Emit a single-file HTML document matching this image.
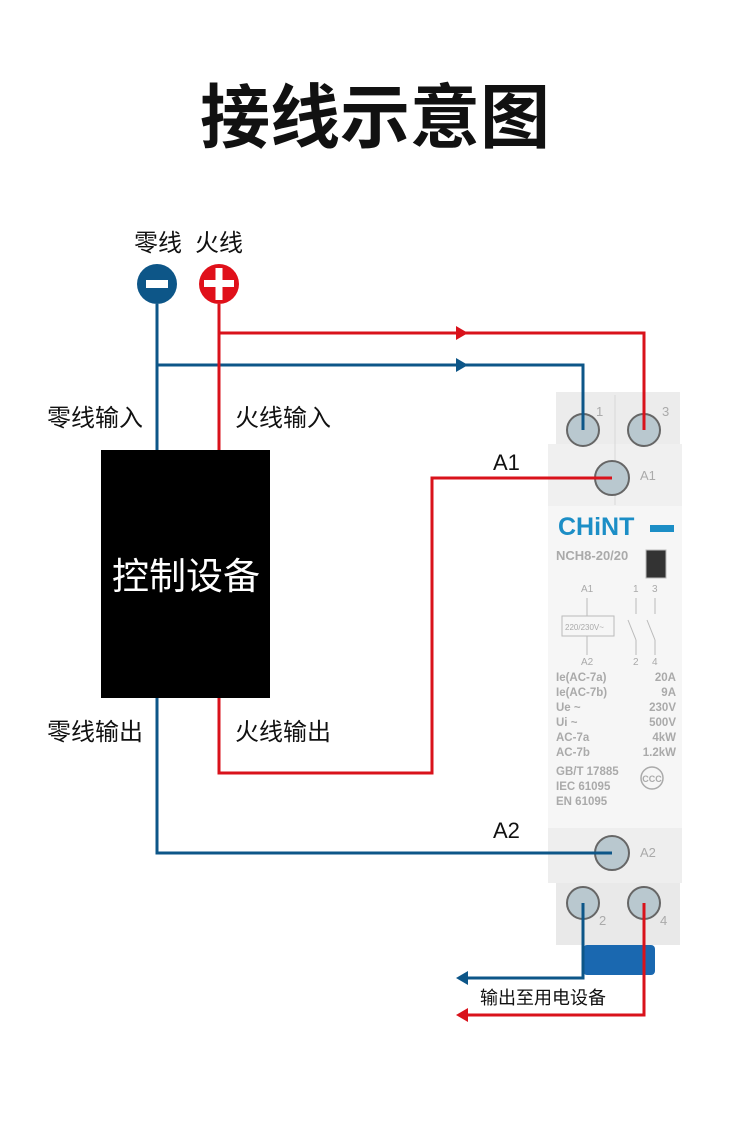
<!DOCTYPE html>
<html><head><meta charset="utf-8"><style>
body{margin:0;background:#fff}
svg{display:block}
text{font-family:"Liberation Sans","Noto Sans CJK SC",sans-serif}
</style></head><body>
<svg width="750" height="1148" viewBox="0 0 750 1148" xmlns="http://www.w3.org/2000/svg">
<text x="375" y="142" font-size="70" font-weight="bold" text-anchor="middle" fill="#111">接线示意图</text>
<text x="134" y="251" font-size="24" fill="#111">零线</text>
<text x="195" y="251" font-size="24" fill="#111">火线</text>
<g>
<rect x="556" y="392" width="124" height="52" fill="#ececec"/>
<rect x="548" y="444" width="134" height="62" fill="#f0f0f0"/>
<rect x="548" y="506" width="134" height="322" fill="#f6f6f6"/>
<rect x="548" y="828" width="134" height="55" fill="#eeeeee"/>
<rect x="556" y="883" width="124" height="62" fill="#e9e9e9"/>
<rect x="583" y="945" width="72" height="30" rx="4" fill="#1a68b0"/>
<line x1="615" y1="395" x2="615" y2="505" stroke="#d8d8d8"/>
<text x="596" y="416" font-size="13" fill="#aaa">1</text>
<text x="662" y="416" font-size="13" fill="#aaa">3</text>
<text x="640" y="480" font-size="13" fill="#aaa">A1</text>
<text x="640" y="857" font-size="13" fill="#aaa">A2</text>
<text x="599" y="925" font-size="13" fill="#aaa">2</text>
<text x="660" y="925" font-size="13" fill="#aaa">4</text>
<text x="558" y="535" font-size="25" font-weight="bold" fill="#1c8ec6">CHiNT</text>
<rect x="650" y="525" width="24" height="7" fill="#1c8ec6"/>
<text x="556" y="560" font-size="13" font-weight="bold" fill="#aaa">NCH8-20/20</text>
<rect x="646" y="550" width="20" height="28" fill="#333" stroke="#bbb"/>
<g font-size="10" fill="#aaa">
<text x="581" y="592">A1</text><text x="633" y="592">1</text><text x="652" y="592">3</text>
<text x="581" y="665">A2</text><text x="633" y="665">2</text><text x="652" y="665">4</text>
</g>
<g stroke="#bbb" fill="none">
<line x1="587" y1="598" x2="587" y2="616"/><line x1="587" y1="636" x2="587" y2="655"/>
<rect x="562" y="616" width="52" height="20"/>
<line x1="636" y1="598" x2="636" y2="614"/><line x1="628" y1="620" x2="636" y2="640"/><line x1="636" y1="640" x2="636" y2="655"/>
<line x1="655" y1="598" x2="655" y2="614"/><line x1="647" y1="620" x2="655" y2="640"/><line x1="655" y1="640" x2="655" y2="655"/>
</g>
<text x="565" y="630" font-size="8" fill="#aaa">220/230V~</text>
<g font-size="11.5" font-weight="bold" fill="#aaa">
<text x="556" y="681">Ie(AC-7a)</text><text x="676" y="681" text-anchor="end">20A</text>
<text x="556" y="696">Ie(AC-7b)</text><text x="676" y="696" text-anchor="end">9A</text>
<text x="556" y="711">Ue ~</text><text x="676" y="711" text-anchor="end">230V</text>
<text x="556" y="726">Ui ~</text><text x="676" y="726" text-anchor="end">500V</text>
<text x="556" y="741">AC-7a</text><text x="676" y="741" text-anchor="end">4kW</text>
<text x="556" y="756">AC-7b</text><text x="676" y="756" text-anchor="end">1.2kW</text>
<text x="556" y="775">GB/T 17885</text>
<text x="556" y="790">IEC 61095</text>
<text x="556" y="805">EN 61095</text>
</g>
<circle cx="652" cy="778" r="11" fill="none" stroke="#aaa" stroke-width="1.5"/>
<text x="652" y="782" font-size="9" font-weight="bold" fill="#aaa" text-anchor="middle">CCC</text>
<g fill="#b9c8cf" stroke="#666" stroke-width="2">
<circle cx="583" cy="430" r="16"/><circle cx="644" cy="430" r="16"/>
<circle cx="612" cy="478" r="17"/><circle cx="612" cy="853" r="17"/>
<circle cx="583" cy="903" r="16"/><circle cx="644" cy="903" r="16"/>
</g>
</g>
<g fill="none" stroke-width="3">
<path d="M157 304V450M157 698V853H612M157 365H583V430" stroke="#0d5688"/>
<path d="M219 304V450M219 698V773H432V478H612M219 333H644V430" stroke="#d9121b"/>
<path d="M583 903V978H464" stroke="#0d5688"/>
<path d="M644 903V1015H464" stroke="#d9121b"/>
</g>
<polygon points="468,326 468,340 456,333" fill="#d9121b" transform="rotate(180 462 333)"/>
<polygon points="468,358 468,372 456,365" fill="#0d5688" transform="rotate(180 462 365)"/>
<polygon points="468,971 468,985 456,978" fill="#0d5688"/>
<polygon points="468,1008 468,1022 456,1015" fill="#d9121b"/>
<circle cx="157" cy="284" r="20" fill="#0d5688"/>
<rect x="146" y="280" width="22" height="8" fill="#fff"/>
<circle cx="219" cy="284" r="20" fill="#e0101a"/>
<rect x="204" y="280" width="30" height="7" fill="#fff"/><rect x="215.5" y="268" width="7" height="32" fill="#fff"/>
<rect x="101" y="450" width="169" height="248" fill="#000"/>
<text x="186" y="589" font-size="37" fill="#fff" text-anchor="middle">控制设备</text>
<g font-size="24" fill="#111">
<text x="47" y="426">零线输入</text><text x="235" y="426">火线输入</text>
<text x="47" y="740">零线输出</text><text x="235" y="740">火线输出</text>
</g>
<text x="493" y="470" font-size="22" fill="#111">A1</text><text x="493" y="838" font-size="22" fill="#111">A2</text>
<text x="480" y="1004" font-size="18" fill="#111">输出至用电设备</text>
</svg>
</body></html>
